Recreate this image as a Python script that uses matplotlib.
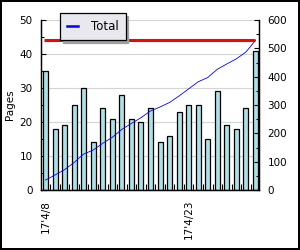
import matplotlib
matplotlib.use('Agg')
import matplotlib.pyplot as plt
from matplotlib.ticker import MultipleLocator, FixedLocator
import numpy as np

# daily pages, 17'4/8 .. 17'4/30
pages = [35, 18, 19, 25, 30, 14, 24, 21, 28, 21, 20, 24,
         14, 16, 23, 25, 25, 15, 29, 19, 18, 24, 41]
day_labels = ["17'4/%d" % d for d in range(8, 31)]
shown_labels = ["17'4/8", "17'4/23"]

total = np.cumsum(pages)
x = np.arange(len(pages))

plt.rcParams['font.family'] = ['DejaVu Sans']
fig = plt.figure(figsize=(3, 2.5), dpi=100)
fig.patch.set_facecolor('white')
fig.patch.set_edgecolor('black')
fig.patch.set_linewidth(1.5)

ax = fig.add_axes([41 / 300, 1 - 190 / 250, 218 / 300, 170 / 250])
ax2 = ax.twinx()

ax.bar(x, pages, width=0.52, color='#b0e0e6', edgecolor='black',
       linewidth=0.9, zorder=2)
ax.set_xlim(-0.47, len(pages) - 1 + 0.37)
ax.set_ylim(0, 50)
ax.yaxis.set_major_locator(MultipleLocator(10))
ax.yaxis.set_minor_locator(MultipleLocator(5))
ax.grid(axis='y', which='major', color='#d4d4d4', linewidth=0.8, zorder=0)
ax.set_axisbelow(True)
ax.set_ylabel('Pages', fontsize=7.5, labelpad=3)

ticks = [day_labels.index(s) for s in shown_labels]
ax.set_xticks(ticks)
ax.set_xticklabels(shown_labels, rotation=90, fontsize=7.5)
ax.xaxis.set_minor_locator(FixedLocator(x[:-1] + 0.5))
ax.tick_params(axis='x', which='major', length=0, pad=7)
ax.tick_params(axis='x', which='minor', direction='in', length=4.5, width=0.8)
ax.tick_params(axis='y', which='major', direction='in', length=3.6, width=0.8,
               labelsize=7.5, pad=6)
ax.tick_params(axis='y', which='minor', direction='in', length=2.2, width=0.8)

ax2.plot(x, total, color='blue', linewidth=0.6, label='Total', zorder=3)
ax2.hlines(total[-1], x[0] - 0.2, x[-1] - 0.1, color='red', linewidth=2.2, zorder=4)
ax2.set_ylim(0, 600)
ax2.yaxis.set_major_locator(MultipleLocator(100))
ax2.yaxis.set_minor_locator(MultipleLocator(50))
ax2.tick_params(axis='y', which='major', direction='in', length=3.6, width=0.8,
                labelsize=7.5, pad=6)
ax2.tick_params(axis='y', which='minor', direction='in', length=2.2, width=0.8)

for a in (ax, ax2):
    a.spines['top'].set_visible(False)
    for s in ('left', 'right', 'bottom'):
        a.spines[s].set_linewidth(0.9)

leg = ax2.legend(loc='upper left', bbox_to_anchor=(60 / 300, 1 - 13 / 250),
                 bbox_transform=fig.transFigure, fontsize=8.5, fancybox=False,
                 shadow={'color': '#a0a0a0', 'alpha': 1}, framealpha=1,
                 edgecolor='black', facecolor='#e8e8ee', handlelength=0.9,
                 borderpad=0.6, borderaxespad=0, handletextpad=1.1)
leg.get_frame().set_linewidth(0.9)
leg.get_lines()[0].set_linewidth(1.8)

fig.savefig('out.png', dpi=100, facecolor=fig.get_facecolor(),
            edgecolor=fig.get_edgecolor())
